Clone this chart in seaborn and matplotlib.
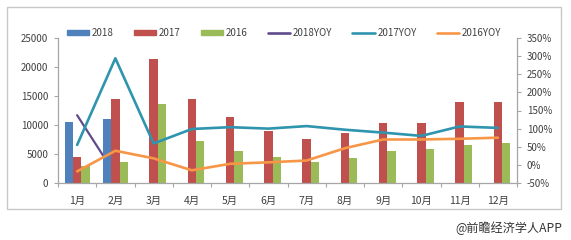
import numpy as np
import pandas as pd
import matplotlib
matplotlib.use('Agg')
import matplotlib.pyplot as plt
import seaborn as sns
from matplotlib.patches import Rectangle
from matplotlib.lines import Line2D
from matplotlib.ticker import FixedLocator

nan = np.nan
months = ['1月', '2月', '3月', '4月', '5月', '6月', '7月', '8月', '9月', '10月', '11月', '12月']
sales_2018 = [10600, 11100, nan, nan, nan, nan, nan, nan, nan, nan, nan, nan]
sales_2017 = [4400, 14550, 21450, 14400, 11300, 8900, 7600, 8700, 10400, 10400, 13900, 14000]
sales_2016 = [2900, 3700, 13700, 7200, 5500, 4500, 3600, 4300, 5500, 5800, 6600, 6900]
yoy_2018 = [137, -27, nan, nan, nan, nan, nan, nan, nan, nan, nan, nan]
yoy_2017 = [55, 294, 59, 99, 104, 100, 107, 97, 89, 80, 106, 102]
yoy_2016 = [-18, 39, 18, -15, 3, 7, 12, 46, 70, 70, 72, 75]
bar_series = ['2018', '2017', '2016']
line_series = ['2018YOY', '2017YOY', '2016YOY']
left_ticks = [0, 5000, 10000, 15000, 20000, 25000]
right_ticks = [-50, 0, 50, 100, 150, 200, 250, 300, 350]
footer = '@前瞻经济学人APP'

bar_colors = {'2018': '#4F81BD', '2017': '#C0504D', '2016': '#9BBB59'}
line_colors = {'2018YOY': '#5F4B8B', '2017YOY': '#2F94AE', '2016YOY': '#F79646'}

sns.set_theme(style='white')
plt.rcParams['font.family'] = ['Noto Sans CJK SC', 'DejaVu Sans']

bars = pd.DataFrame({
    'month': months * 3,
    'series': ['2018'] * 12 + ['2017'] * 12 + ['2016'] * 12,
    'value': sales_2018 + sales_2017 + sales_2016,
})
idx = np.arange(len(months))

W, H = 571, 240
fig = plt.figure(figsize=(W / 100, H / 100), dpi=100)
ax = fig.add_axes([58 / W, 1 - 183 / H, (517 - 58) / W, (183 - 38) / H])
ax2 = ax.twinx()

sns.barplot(data=bars, x='month', y='value', hue='series', order=months,
            hue_order=bar_series, palette=bar_colors, width=0.66, saturation=1,
            ax=ax, legend=False, errorbar=None, zorder=2,
            edgecolor='none', linewidth=0)

# 2018YOY drawn behind the bars (as in the reference), on right-axis scale
sns.lineplot(x=idx, y=yoy_2018, ax=ax, color=line_colors['2018YOY'], lw=1.6,
             transform=ax2.transData, zorder=1, errorbar=None)
sns.lineplot(x=idx, y=yoy_2017, ax=ax2, color=line_colors['2017YOY'], lw=1.9, errorbar=None)
sns.lineplot(x=idx, y=yoy_2016, ax=ax2, color=line_colors['2016YOY'], lw=1.9, errorbar=None)

ax.set_ylim(0, 25000)
ax2.set_ylim(-50, 350)
ax.set_xlim(-0.5, 11.5)
ax2.set_xlim(-0.5, 11.5)
ax.set_yticks(left_ticks)
ax.set_yticklabels([str(v) for v in left_ticks])
ax2.set_yticks(right_ticks)
ax2.set_yticklabels([f'{v}%' for v in right_ticks])
ax.set_xticks(idx)
ax.set_xticklabels(months)
ax.xaxis.set_minor_locator(FixedLocator(np.arange(-0.5, 12, 1)))
ax.set_xlabel('')
ax.set_ylabel('')
ax2.set_ylabel('')

spine_c = '#A6A6A6'
txt_c = '#404040'
for a in (ax, ax2):
    for s in a.spines.values():
        s.set_visible(False)
ax.spines['left'].set_visible(True)
ax.spines['bottom'].set_visible(True)
ax2.spines['right'].set_visible(True)
for s in (ax.spines['left'], ax.spines['bottom'], ax2.spines['right']):
    s.set_color(spine_c)
    s.set_linewidth(0.9)

ax.tick_params(axis='y', which='major', direction='out', length=3, width=0.8,
               color=spine_c, labelsize=7, labelcolor=txt_c, pad=4, left=True)
ax2.tick_params(axis='y', which='major', direction='out', length=3, width=0.8,
                color=spine_c, labelsize=7, labelcolor=txt_c, pad=4, right=True)
ax.tick_params(axis='x', which='major', length=0, labelsize=7.5, labelcolor=txt_c, pad=9)
ax.tick_params(axis='x', which='minor', direction='out', length=3, width=0.8,
               color=spine_c, bottom=True)
ax.grid(False)
ax2.grid(False)

handles = [Rectangle((0, 0), 1, 1, color=bar_colors[s]) for s in bar_series] + \
          [Line2D([0], [0], color=line_colors[s], lw=1.9) for s in line_series]
labels = bar_series + line_series
fig.legend(handles, labels, loc='center', bbox_to_anchor=(284 / W, 1 - 33 / H),
           ncol=6, frameon=False, fontsize=7, handlelength=2.3, handleheight=0.5,
           handletextpad=0.3, columnspacing=2.05, labelcolor=txt_c)

fig.add_artist(Rectangle((7 / W, 1 - 209 / H), (561 - 7) / W, (209 - 7) / H,
                         transform=fig.transFigure, fill=False,
                         edgecolor='#C8C8C8', lw=1))
fig.text(562 / W, 1 - 228 / H, footer, ha='right', va='center',
         fontsize=8.7, color='#333333')

fig.savefig('out.png', dpi=100)
